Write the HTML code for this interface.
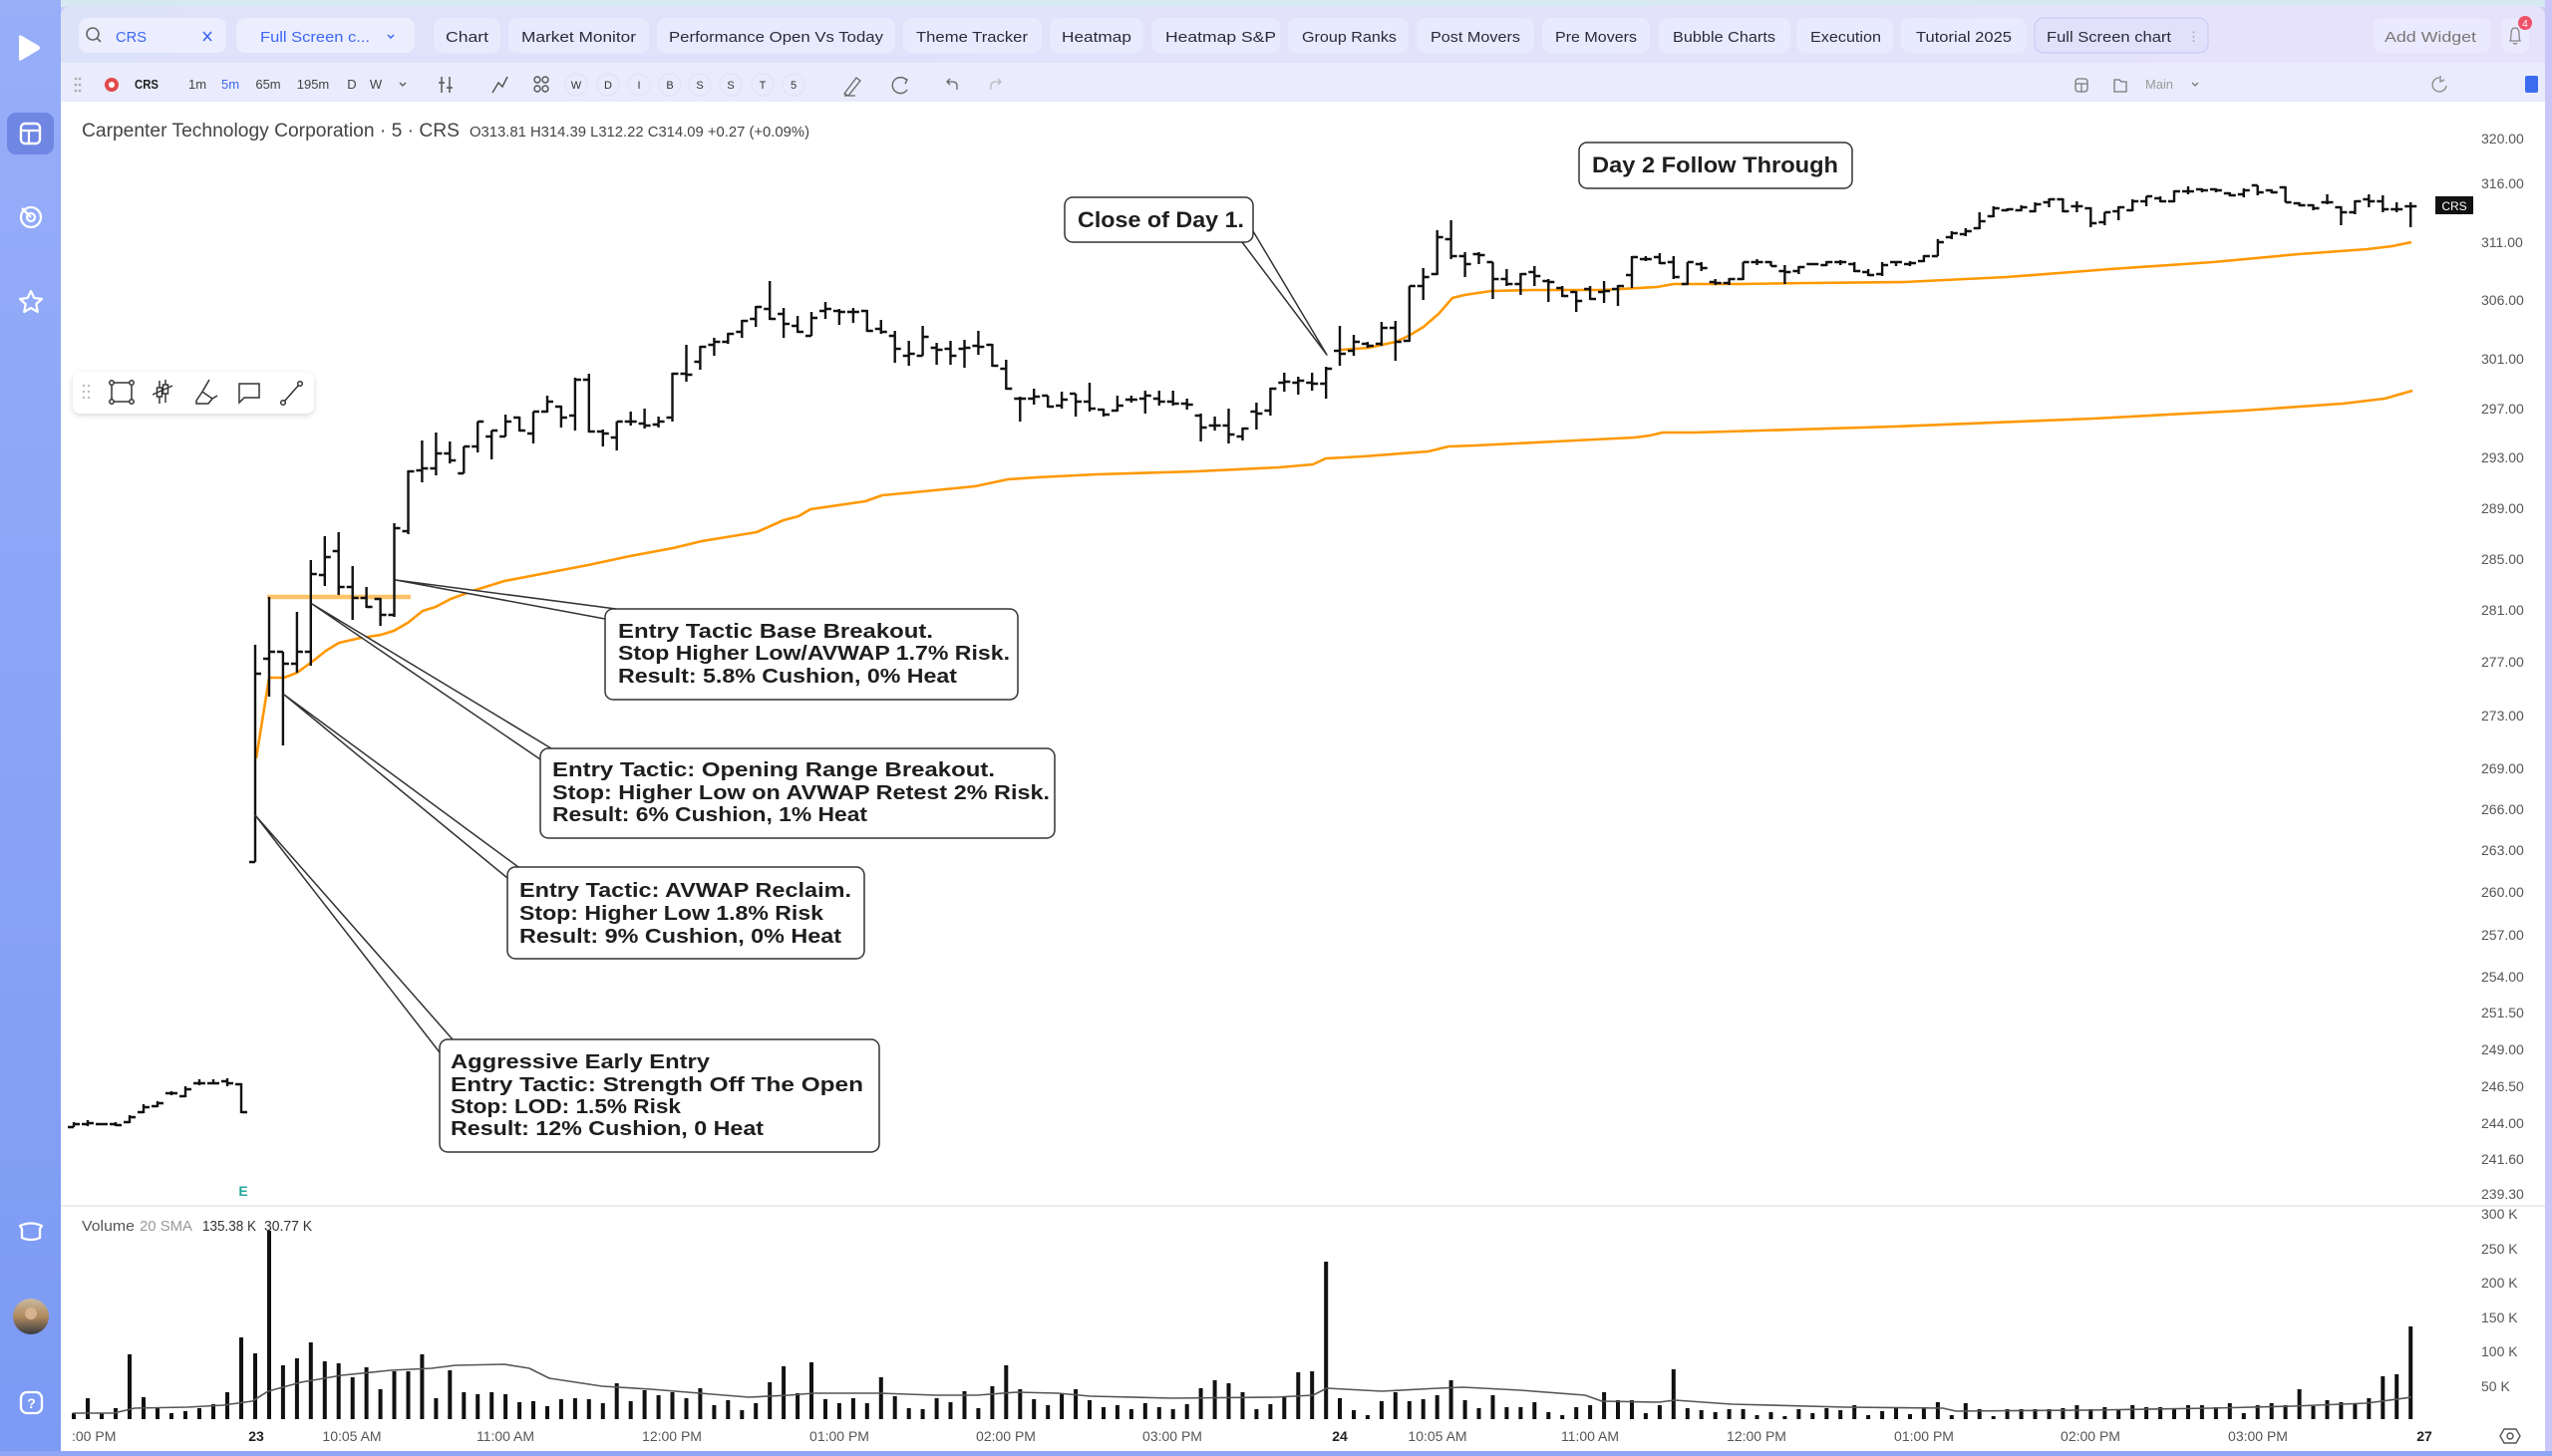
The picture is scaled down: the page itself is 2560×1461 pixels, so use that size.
<!DOCTYPE html>
<html><head><meta charset="utf-8"><style>
html,body{margin:0;padding:0;background:#c7cdf8;}
svg{display:block;}
text{font-family:"Liberation Sans",sans-serif;}
</style></head><body>
<svg xmlns="http://www.w3.org/2000/svg" width="2560" height="1461" viewBox="0 0 2560 1461">
<defs>
<linearGradient id="side" x1="0" y1="0" x2="0" y2="1"><stop offset="0" stop-color="#97aef9"/><stop offset="1" stop-color="#7c9af4"/></linearGradient>
<linearGradient id="hdr" x1="0" y1="0" x2="1" y2="0"><stop offset="0" stop-color="#dde2fb"/><stop offset="1" stop-color="#e7e2fb"/></linearGradient>
<linearGradient id="av" x1="0" y1="0" x2="0" y2="1"><stop offset="0" stop-color="#c9b9a0"/><stop offset="0.5" stop-color="#b08a5e"/><stop offset="1" stop-color="#3a3a42"/></linearGradient>
<filter id="sh" x="-10%" y="-30%" width="120%" height="170%"><feDropShadow dx="0" dy="2" stdDeviation="3" flood-color="#000" flood-opacity="0.15"/></filter>
</defs>

<!-- backgrounds -->
<rect x="0" y="0" width="2560" height="1461" fill="#c9cdf8"/>
<rect x="0" y="0" width="2560" height="7" fill="#d6e8f1"/>
<rect x="2553" y="0" width="7" height="1461" fill="#cbc6f7"/>
<rect x="0" y="0" width="61" height="1461" fill="url(#side)"/>
<rect x="0" y="1456" width="2560" height="5" fill="#8fa5f5"/>
<rect x="61" y="6" width="2492" height="110" rx="10" fill="url(#hdr)"/>
<rect x="61" y="63" width="2492" height="40" fill="#eaecfd"/>
<rect x="61" y="102" width="2492" height="1354" fill="#ffffff"/>

<!-- sidebar icons -->
<path d="M19 37 Q19 34 22 36 L39 46 Q41 48 39 50 L22 60 Q19 62 19 59 Z" fill="#ffffff"/>
<rect x="7" y="113" width="47" height="42" rx="9" fill="#6f86e3"/>
<rect x="21" y="124" width="19" height="20" rx="4" fill="none" stroke="#fff" stroke-width="2.4"/>
<path d="M21 131H40M29 131V144" stroke="#fff" stroke-width="2.2" fill="none"/>
<circle cx="31" cy="218" r="10" fill="none" stroke="#fff" stroke-width="2.3"/>
<circle cx="31" cy="218" r="4" fill="none" stroke="#fff" stroke-width="2.2"/>
<path d="M31 218L22 209" stroke="#fff" stroke-width="2.3"/>
<path d="M31 292 L34.3 299 L42 300 L36.3 305 L37.8 313 L31 309 L24.2 313 L25.7 305 L20 300 L27.7 299 Z" fill="none" stroke="#fff" stroke-width="2.2" stroke-linejoin="round"/>
<path d="M20 1230 Q31 1225 42 1230 L40 1233 L40 1242 Q31 1246 22 1242 L22 1233 Z" fill="none" stroke="#fff" stroke-width="2.3" stroke-linejoin="round"/>
<circle cx="31" cy="1321" r="18" fill="url(#av)"/>
<circle cx="31" cy="1318" r="6" fill="#d8b28f"/>
<rect x="21" y="1397" width="21" height="21" rx="6" fill="none" stroke="#fff" stroke-width="2.3"/>
<text x="31.5" y="1413" font-size="14" font-weight="bold" fill="#fff" text-anchor="middle">?</text>

<!-- header pills -->
<g font-size="15" fill="#2b2b3b">
<rect x="79" y="18" width="148" height="35" rx="9" fill="#eceefe"/>
<circle cx="93" cy="34" r="6" fill="none" stroke="#666" stroke-width="1.6"/>
<path d="M97 38L101 42" stroke="#666" stroke-width="1.6"/>
<text x="116" y="42" fill="#3d66f5" textLength="31" lengthAdjust="spacingAndGlyphs">CRS</text>
<path d="M204 32L212 41M212 32L204 41" stroke="#3d66f5" stroke-width="1.6"/>
<rect x="237" y="18" width="179" height="35" rx="9" fill="#eceefe"/>
<text x="261" y="42" fill="#3d66f5" textLength="110" lengthAdjust="spacingAndGlyphs">Full Screen c...</text>
<path d="M389 35L392 38L395 35" stroke="#3d66f5" stroke-width="1.5" fill="none"/>
<rect x="435" y="18" width="67" height="35" rx="9" fill="#e8eafd"/>
<text x="447" y="42" textLength="43" lengthAdjust="spacingAndGlyphs">Chart</text>
<rect x="510" y="18" width="141" height="35" rx="9" fill="#e8eafd"/>
<text x="523" y="42" textLength="115" lengthAdjust="spacingAndGlyphs">Market Monitor</text>
<rect x="659" y="18" width="239" height="35" rx="9" fill="#e8eafd"/>
<text x="671" y="42" textLength="215" lengthAdjust="spacingAndGlyphs">Performance Open Vs Today</text>
<rect x="906" y="18" width="139" height="35" rx="9" fill="#e8eafd"/>
<text x="919" y="42" textLength="112" lengthAdjust="spacingAndGlyphs">Theme Tracker</text>
<rect x="1053" y="18" width="94" height="35" rx="9" fill="#e8eafd"/>
<text x="1065" y="42" textLength="70" lengthAdjust="spacingAndGlyphs">Heatmap</text>
<rect x="1155" y="18" width="129" height="35" rx="9" fill="#e8eafd"/>
<text x="1169" y="42" textLength="111" lengthAdjust="spacingAndGlyphs">Heatmap S&amp;P</text>
<rect x="1292" y="18" width="121" height="35" rx="9" fill="#e8eafd"/>
<text x="1306" y="42" textLength="95" lengthAdjust="spacingAndGlyphs">Group Ranks</text>
<rect x="1421" y="18" width="118" height="35" rx="9" fill="#e8eafd"/>
<text x="1435" y="42" textLength="90" lengthAdjust="spacingAndGlyphs">Post Movers</text>
<rect x="1547" y="18" width="108" height="35" rx="9" fill="#e8eafd"/>
<text x="1560" y="42" textLength="82" lengthAdjust="spacingAndGlyphs">Pre Movers</text>
<rect x="1664" y="18" width="132" height="35" rx="9" fill="#e8eafd"/>
<text x="1678" y="42" textLength="103" lengthAdjust="spacingAndGlyphs">Bubble Charts</text>
<rect x="1802" y="18" width="97" height="35" rx="9" fill="#e8eafd"/>
<text x="1816" y="42" textLength="71" lengthAdjust="spacingAndGlyphs">Execution</text>
<rect x="1907" y="18" width="126" height="35" rx="9" fill="#e8eafd"/>
<text x="1922" y="42" textLength="96" lengthAdjust="spacingAndGlyphs">Tutorial 2025</text>
<rect x="2041" y="18" width="174" height="35" rx="9" fill="#e2e1fc" stroke="#c8ccf4" stroke-width="1.2"/>
<text x="2053" y="42" textLength="125" lengthAdjust="spacingAndGlyphs">Full Screen chart</text>
<text x="2194" y="41" fill="#999" font-size="13">⋮</text>
<rect x="2380" y="18" width="119" height="35" rx="9" fill="#ebe9fd"/>
<text x="2392" y="42" fill="#777" textLength="92" lengthAdjust="spacingAndGlyphs">Add Widget</text>
<rect x="2509" y="18" width="28" height="35" rx="8" fill="#ebe9fd"/>
<path d="M2518 41 Q2519 39 2519 34 Q2519 28 2523 28 Q2527 28 2527 34 Q2527 39 2528 41 Z M2521 43 Q2523 45 2525 43" fill="none" stroke="#888" stroke-width="1.3"/>
<circle cx="2533" cy="23" r="7" fill="#ee5068"/>
<text x="2533" y="27" font-size="10" fill="#fff" text-anchor="middle">4</text>
</g>

<!-- toolbar row 2 -->
<g font-size="13" fill="#444">
<g fill="#aaa"><circle cx="76" cy="79" r="1.3"/><circle cx="80" cy="79" r="1.3"/><circle cx="76" cy="85" r="1.3"/><circle cx="80" cy="85" r="1.3"/><circle cx="76" cy="91" r="1.3"/><circle cx="80" cy="91" r="1.3"/></g>
<circle cx="112" cy="85" r="7" fill="#e24b4b"/><circle cx="112" cy="85" r="3" fill="#fff"/>
<text x="135" y="89" font-weight="bold" fill="#222" textLength="24" lengthAdjust="spacingAndGlyphs">CRS</text>
<text x="198" y="89" text-anchor="middle">1m</text>
<text x="231" y="89" text-anchor="middle" fill="#3d66f5">5m</text>
<text x="269" y="89" text-anchor="middle">65m</text>
<text x="314" y="89" text-anchor="middle">195m</text>
<text x="353" y="89" text-anchor="middle">D</text>
<text x="377" y="89" text-anchor="middle">W</text>
<path d="M401 83L404 86L407 83" stroke="#555" stroke-width="1.3" fill="none"/>
<path d="M443 77V93M451 77V93M440 83H446M448 88H454" stroke="#555" stroke-width="1.5"/>
<path d="M494 93L500 83L504 87L509 77" stroke="#555" stroke-width="1.5" fill="none"/>
<g fill="none" stroke="#555" stroke-width="1.4"><circle cx="539" cy="80" r="3"/><circle cx="547" cy="80" r="3"/><circle cx="539" cy="89" r="3"/><circle cx="547" cy="89" r="3"/></g>
<g fill="none" stroke="#e0e2f3" stroke-width="1"><circle cx="578" cy="85" r="11"/><circle cx="610" cy="85" r="11"/><circle cx="641" cy="85" r="11"/><circle cx="672" cy="85" r="11"/><circle cx="702" cy="85" r="11"/><circle cx="733" cy="85" r="11"/><circle cx="765" cy="85" r="11"/><circle cx="796" cy="85" r="11"/></g>
<g font-size="11" text-anchor="middle" fill="#333">
<text x="578" y="89">W</text><text x="610" y="89">D</text><text x="641" y="89">I</text><text x="672" y="89">B</text><text x="702" y="89">S</text><text x="733" y="89">S</text><text x="765" y="89">T</text><text x="796" y="89">5</text>
</g>
<path d="M847 94L859 78L863 81L851 96Z M847 96H858" stroke="#666" stroke-width="1.3" fill="none"/>
<path d="M909 80A8 8 0 1 0 910 90M906 78L910 80L908 84" stroke="#666" stroke-width="1.4" fill="none"/>
<path d="M960 90V86Q960 82 955 82H950M953 79L950 82L953 85" stroke="#666" stroke-width="1.3" fill="none"/>
<path d="M994 90V86Q994 82 999 82H1004M1001 79L1004 82L1001 85" stroke="#bbb" stroke-width="1.3" fill="none"/>
<rect x="2082" y="79" width="12" height="13" rx="3" fill="none" stroke="#777" stroke-width="1.3"/>
<path d="M2082 84H2094M2088 84V92" stroke="#777" stroke-width="1.2"/>
<path d="M2121 80H2126L2128 82H2133V92H2121Z" fill="none" stroke="#777" stroke-width="1.3"/>
<text x="2152" y="89" fill="#999" textLength="28" lengthAdjust="spacingAndGlyphs">Main</text>
<path d="M2199 83L2202 86L2205 83" stroke="#777" stroke-width="1.3" fill="none"/>
<path d="M2447 78A7 7 0 1 0 2454 86M2448 76L2448 82L2452 80" stroke="#888" stroke-width="1.3" fill="none"/>
<rect x="2533" y="76" width="13" height="17" rx="2" fill="#3b6cf0"/>
</g>

<!-- legend -->
<text x="82" y="137" font-size="19" fill="#444" textLength="379" lengthAdjust="spacingAndGlyphs">Carpenter Technology Corporation · 5 · CRS</text>
<text x="471" y="137" font-size="15" fill="#444" textLength="341" lengthAdjust="spacingAndGlyphs">O313.81 H314.39 L312.22 C314.09 +0.27 (+0.09%)</text>

<!-- floating toolbar -->
<rect x="73" y="373" width="242" height="42" rx="8" fill="#fff" filter="url(#sh)"/>
<g fill="#bbb"><circle cx="84" cy="387" r="1.2"/><circle cx="89" cy="387" r="1.2"/><circle cx="84" cy="393" r="1.2"/><circle cx="89" cy="393" r="1.2"/><circle cx="84" cy="399" r="1.2"/><circle cx="89" cy="399" r="1.2"/></g>
<g fill="none" stroke="#333" stroke-width="1.5">
<rect x="112" y="384" width="20" height="19"/>
<circle cx="112" cy="384" r="2.2" fill="#fff"/><circle cx="132" cy="384" r="2.2" fill="#fff"/><circle cx="112" cy="403" r="2.2" fill="#fff"/><circle cx="132" cy="403" r="2.2" fill="#fff"/>
<path d="M160 382V405M166 381V404"/><rect x="157.5" y="389" width="5" height="9" fill="#fff"/><rect x="163.5" y="386" width="5" height="9" fill="#fff"/>
<path d="M153 396L173 387"/>
<path d="M197 402L203 393L213 400L209 405H197ZM203 393L210 381M213 400L218 397"/>
<path d="M240 385H260V399H245L240 404Z"/>
<path d="M285 403L300 386"/><circle cx="284" cy="404" r="2.3" fill="#fff"/><circle cx="301" cy="385" r="2.3" fill="#fff"/>
</g>

<!-- orange opening range line -->
<path d="M268 599H412" stroke="#ffb74d" stroke-width="4.5" stroke-opacity="0.85"/>

<!-- VWAP lines -->
<polyline fill="none" stroke="#ff9800" stroke-width="2.6" stroke-linejoin="round" points="257,761 270,680 285,680 298,675 313,664 327,653 340,645 362,640 382,637 395,633 409,625 424,613 437,609 452,601 477,592 506,583 548,575 590,567 632,558 675,550 704,543 759,534 786,522 801,518 813,511 868,503 885,497 927,493 978,488 1011,481 1040,479 1100,476 1200,473 1283,469 1317,466 1330,460 1367,458 1433,453 1453,448 1480,447 1560,443 1640,439 1655,437 1668,434 1700,434 1900,428 2100,420 2250,412 2350,405 2392,400 2420,392"/>
<polyline fill="none" stroke="#ff9800" stroke-width="2.6" stroke-linejoin="round" points="1345,351 1373,349 1400,343 1413,337 1428,328 1443,315 1457,299 1469,296 1496,292 1538,291 1607,291 1662,288 1679,285 1744,285 1813,284 1910,283 2013,278 2117,270 2220,263 2306,255 2375,250 2400,247 2419,243"/>

<!-- previous day bars -->
<path fill="none" stroke="#111" stroke-width="2.4" d="M74 1126V1131M74 1131h-6M74 1128h6M88 1124V1130M88 1128h-6M88 1127h6M102 1127V1129M102 1128h-6M102 1128h6M116 1126V1130M116 1128h-6M116 1129h6M130 1119V1127M130 1126h-6M130 1121h6M144 1108V1117M144 1116h-6M144 1111h6M158 1105V1111M158 1110h-6M158 1107h6M172 1095V1099M172 1097h-6M172 1097h6M186 1090V1101M186 1100h-6M186 1093h6M200 1083V1089M200 1087h-6M200 1087h6M214 1083V1088M214 1087h-6M214 1087h6M228 1082V1090M228 1085h-6M228 1087h6M242 1087V1117M242 1088h-6M242 1116h6"/>

<!-- day 23 bars -->
<path fill="none" stroke="#111" stroke-width="2.4" d="M256 647V865M256 865h-6M256 676h6M270 599V699M270 661h-6M270 654h6M283.9 654V748M283.9 654h-6M283.9 666h6M297.9 614V675M297.9 666h-6M297.9 654h6M311.8 562V668M311.8 654h-6M311.8 576h6M325.8 538V588M325.8 577h-6M325.8 559h6M339.7 534V597M339.7 553h-6M339.7 589h6M353.7 568V622M353.7 589h-6M353.7 600h6M367.6 589V610M367.6 600h-6M367.6 609h6M381.6 600V628M381.6 601h-6M381.6 617h6M395.5 525V619M395.5 617h-6M395.5 530h6M409.5 472V536M409.5 533h-6M409.5 473h6M423.4 442V484M423.4 472h-6M423.4 470h6M437.4 434V477M437.4 470h-6M437.4 455h6M451.3 443V465M451.3 455h-6M451.3 462h6M465.3 448V475M465.3 475h-6M465.3 448h6M479.2 423V454M479.2 448h-6M479.2 423h6M493.2 432V461M493.2 438h-6M493.2 432h6M507.1 416V438M507.1 438h-6M507.1 423h6M521.1 418V433M521.1 419h-6M521.1 432h6M535 413V445M535 435h-6M535 413h6M549 397V414M549 413h-6M549 403h6M562.9 407V429M562.9 408h-6M562.9 419h6M576.9 379V432M576.9 417h-6M576.9 381h6M590.8 375V434M590.8 381h-6M590.8 433h6M604.8 431V448M604.8 433h-6M604.8 435h6M618.7 423V452M618.7 439h-6M618.7 423h6M632.7 413V427M632.7 423h-6M632.7 423h6M646.6 410V430M646.6 425h-6M646.6 427h6M660.6 418V429M660.6 426h-6M660.6 423h6M674.5 374V423M674.5 419h-6M674.5 375h6M688.5 346V383M688.5 375h-6M688.5 376h6M702.4 347V371M702.4 363h-6M702.4 348h6M716.4 339V357M716.4 346h-6M716.4 343h6M730.3 334V345M730.3 343h-6M730.3 335h6M744.3 321V339M744.3 333h-6M744.3 322h6M758.2 307V328M758.2 320h-6M758.2 308h6M772.2 282V321M772.2 310h-6M772.2 320h6M786.1 309V339M786.1 315h-6M786.1 325h6M800.1 317V334M800.1 327h-6M800.1 333h6M814 313V337M814 337h-6M814 319h6M828 303V320M828 312h-6M828 310h6M841.9 310V326M841.9 312h-6M841.9 313h6M855.9 309V324M855.9 313h-6M855.9 313h6M869.8 311V333M869.8 312h-6M869.8 332h6M883.8 321V335M883.8 330h-6M883.8 333h6M897.7 332V364M897.7 337h-6M897.7 350h6M911.7 342V367M911.7 357h-6M911.7 355h6M925.6 327V357M925.6 357h-6M925.6 338h6M939.6 344V366M939.6 349h-6M939.6 351h6M953.5 342V366M953.5 350h-6M953.5 357h6M967.5 341V369M967.5 350h-6M967.5 349h6M981.4 332V356M981.4 347h-6M981.4 348h6M995.4 345V368M995.4 346h-6M995.4 367h6M1009.3 361V391M1009.3 370h-6M1009.3 390h6M1023.3 398V423M1023.3 400h-6M1023.3 400h6M1037.2 390V406M1037.2 400h-6M1037.2 398h6M1051.2 397V409M1051.2 397h-6M1051.2 408h6M1065.1 393V410M1065.1 407h-6M1065.1 401h6M1079.1 395V418M1079.1 395h-6M1079.1 403h6M1093 384V413M1093 403h-6M1093 410h6M1107 410V418M1107 411h-6M1107 416h6M1120.9 397V413M1120.9 412h-6M1120.9 407h6M1134.9 397V404M1134.9 401h-6M1134.9 401h6M1148.8 392V415M1148.8 400h-6M1148.8 397h6M1162.8 392V407M1162.8 400h-6M1162.8 403h6M1176.7 392V407M1176.7 403h-6M1176.7 405h6M1190.7 400V411M1190.7 405h-6M1190.7 406h6M1204.6 415V443M1204.6 417h-6M1204.6 429h6M1218.6 418V432M1218.6 427h-6M1218.6 427h6M1232.5 410V445M1232.5 427h-6M1232.5 436h6M1246.5 429V442M1246.5 438h-6M1246.5 430h6M1260.4 404V431M1260.4 413h-6M1260.4 415h6M1274.4 389V417M1274.4 412h-6M1274.4 390h6M1288.3 374V393M1288.3 384h-6M1288.3 383h6M1302.3 378V396M1302.3 384h-6M1302.3 382h6M1316.2 374V392M1316.2 384h-6M1316.2 385h6M1330.2 368V400M1330.2 385h-6M1330.2 370h6"/>

<!-- day 24 bars -->
<path fill="none" stroke="#111" stroke-width="2.4" d="M1344 327V367M1344 352h-6M1344 355h6M1358 336V357M1358 352h-6M1358 343h6M1371.9 343V349M1371.9 345h-6M1371.9 347h6M1385.9 323V347M1385.9 345h-6M1385.9 329h6M1399.8 322V362M1399.8 329h-6M1399.8 343h6M1413.8 287V343M1413.8 342h-6M1413.8 287h6M1427.7 269V301M1427.7 287h-6M1427.7 278h6M1441.7 231V276M1441.7 275h-6M1441.7 238h6M1455.6 221V260M1455.6 240h-6M1455.6 257h6M1469.6 253V278M1469.6 257h-6M1469.6 265h6M1483.5 253V265M1483.5 255h-6M1483.5 256h6M1497.5 263V300M1497.5 263h-6M1497.5 280h6M1511.4 270V287M1511.4 280h-6M1511.4 285h6M1525.4 274V296M1525.4 285h-6M1525.4 275h6M1539.3 267V287M1539.3 273h-6M1539.3 277h6M1553.3 280V303M1553.3 282h-6M1553.3 283h6M1567.2 287V298M1567.2 289h-6M1567.2 297h6M1581.2 292V313M1581.2 293h-6M1581.2 302h6M1595.1 287V301M1595.1 290h-6M1595.1 300h6M1609.1 282V304M1609.1 293h-6M1609.1 292h6M1623 286V307M1623 290h-6M1623 287h6M1637 257V289M1637 276h-6M1637 258h6M1650.9 257V262M1650.9 260h-6M1650.9 260h6M1664.9 254V265M1664.9 258h-6M1664.9 264h6M1678.8 257V280M1678.8 263h-6M1678.8 278h6M1692.8 263V286M1692.8 285h-6M1692.8 263h6M1706.7 263V272M1706.7 265h-6M1706.7 269h6M1720.7 280V286M1720.7 283h-6M1720.7 284h6M1734.6 279V286M1734.6 284h-6M1734.6 280h6M1748.6 263V281M1748.6 280h-6M1748.6 263h6M1762.5 260V266M1762.5 263h-6M1762.5 263h6M1776.5 262V267M1776.5 263h-6M1776.5 267h6M1790.4 266V285M1790.4 272h-6M1790.4 273h6M1804.4 267V275M1804.4 272h-6M1804.4 268h6M1818.3 264V266M1818.3 265h-6M1818.3 265h6M1832.3 262V267M1832.3 266h-6M1832.3 263h6M1846.2 261V266M1846.2 263h-6M1846.2 263h6M1860.2 263V273M1860.2 265h-6M1860.2 272h6M1874.1 270V277M1874.1 273h-6M1874.1 276h6M1888.1 263V277M1888.1 275h-6M1888.1 266h6M1902 262V267M1902 263h-6M1902 263h6M1916 262V267M1916 265h-6M1916 264h6M1929.9 256V263M1929.9 262h-6M1929.9 257h6M1943.9 240V257M1943.9 257h-6M1943.9 243h6M1957.8 232V240M1957.8 238h-6M1957.8 234h6M1971.8 229V237M1971.8 235h-6M1971.8 232h6M1985.7 213V230M1985.7 229h-6M1985.7 222h6M1999.7 207V218M1999.7 217h-6M1999.7 209h6M2013.6 209V212M2013.6 211h-6M2013.6 210h6M2027.6 206V212M2027.6 211h-6M2027.6 208h6M2041.5 203V213M2041.5 212h-6M2041.5 205h6M2055.5 199V208M2055.5 203h-6M2055.5 200h6M2069.4 199V213M2069.4 200h-6M2069.4 212h6M2083.4 202V213M2083.4 207h-6M2083.4 207h6M2097.3 208V228M2097.3 209h-6M2097.3 224h6M2111.3 213V226M2111.3 223h-6M2111.3 213h6M2125.2 207V221M2125.2 212h-6M2125.2 208h6M2139.2 200V212M2139.2 211h-6M2139.2 202h6M2153.1 197V207M2153.1 202h-6M2153.1 197h6M2167.1 197V203M2167.1 199h-6M2167.1 202h6M2181 191V203M2181 202h-6M2181 192h6M2195 187V195M2195 192h-6M2195 192h6M2208.9 189V193M2208.9 190h-6M2208.9 191h6M2222.9 189V193M2222.9 190h-6M2222.9 191h6M2236.8 193V197M2236.8 194h-6M2236.8 196h6M2250.8 189V198M2250.8 195h-6M2250.8 191h6M2264.7 186V196M2264.7 186h-6M2264.7 193h6M2278.7 190V194M2278.7 191h-6M2278.7 193h6M2292.6 187V203M2292.6 188h-6M2292.6 203h6M2306.6 203V207M2306.6 204h-6M2306.6 206h6M2320.5 205V211M2320.5 206h-6M2320.5 209h6M2334.5 195V205M2334.5 203h-6M2334.5 203h6M2348.4 207V226M2348.4 208h-6M2348.4 213h6M2362.4 201V215M2362.4 213h-6M2362.4 202h6M2376.3 195V208M2376.3 200h-6M2376.3 202h6M2390.3 196V213M2390.3 202h-6M2390.3 210h6M2404.2 203V213M2404.2 210h-6M2404.2 210h6M2418.2 203V228M2418.2 207h-6M2418.2 207h6"/>

<!-- CRS tag -->
<rect x="2443" y="197" width="38" height="18" fill="#111"/>
<text x="2462" y="211" font-size="12" fill="#fff" text-anchor="middle">CRS</text>

<!-- callouts -->
<g stroke="#333" stroke-width="1.5" fill="#fff" stroke-linejoin="round">
<polygon points="256,818 454,1043 441,1056"/>
<rect x="441" y="1043" width="441" height="113" rx="8"/>
<polygon points="285,697 520,870 509,881"/>
<rect x="509" y="870" width="358" height="92" rx="8"/>
<polygon points="313,606 553,751 542,762"/>
<rect x="542" y="751" width="516" height="90" rx="8"/>
<polygon points="397,582 618,611 607,621"/>
<rect x="607" y="611" width="414" height="91" rx="8"/>
<polygon points="1331,356 1246,243 1257,232"/>
<rect x="1068" y="198" width="189" height="45" rx="8"/>
<rect x="1584" y="143" width="274" height="46" rx="8"/>
</g>
<g font-size="20" font-weight="bold" fill="#1e1e1e">
<text x="452" y="1072" textLength="260" lengthAdjust="spacingAndGlyphs">Aggressive Early Entry</text>
<text x="452" y="1095" textLength="414" lengthAdjust="spacingAndGlyphs">Entry Tactic: Strength Off The Open</text>
<text x="452" y="1117" textLength="231" lengthAdjust="spacingAndGlyphs">Stop: LOD: 1.5% Risk</text>
<text x="452" y="1139" textLength="314" lengthAdjust="spacingAndGlyphs">Result: 12% Cushion, 0 Heat</text>
<text x="521" y="900" textLength="333" lengthAdjust="spacingAndGlyphs">Entry Tactic: AVWAP Reclaim.</text>
<text x="521" y="923" textLength="305" lengthAdjust="spacingAndGlyphs">Stop: Higher Low 1.8% Risk</text>
<text x="521" y="946" textLength="323" lengthAdjust="spacingAndGlyphs">Result: 9% Cushion, 0% Heat</text>
<text x="554" y="779" textLength="444" lengthAdjust="spacingAndGlyphs">Entry Tactic: Opening Range Breakout.</text>
<text x="554" y="802" textLength="499" lengthAdjust="spacingAndGlyphs">Stop: Higher Low on AVWAP Retest 2% Risk.</text>
<text x="554" y="824" textLength="316" lengthAdjust="spacingAndGlyphs">Result: 6% Cushion, 1% Heat</text>
<text x="620" y="640" textLength="316" lengthAdjust="spacingAndGlyphs">Entry Tactic Base Breakout.</text>
<text x="620" y="662" textLength="393" lengthAdjust="spacingAndGlyphs">Stop Higher Low/AVWAP 1.7% Risk.</text>
<text x="620" y="685" textLength="340" lengthAdjust="spacingAndGlyphs">Result: 5.8% Cushion, 0% Heat</text>
<text x="1081" y="228" font-size="22" textLength="167" lengthAdjust="spacingAndGlyphs">Close of Day 1.</text>
<text x="1597" y="173" font-size="22" textLength="247" lengthAdjust="spacingAndGlyphs">Day 2 Follow Through</text>
</g>

<!-- price axis -->
<g font-size="14" fill="#555">
<text x="2489" y="144">320.00</text><text x="2489" y="189">316.00</text><text x="2489" y="248">311.00</text><text x="2489" y="306">306.00</text><text x="2489" y="365">301.00</text><text x="2489" y="415">297.00</text><text x="2489" y="464">293.00</text><text x="2489" y="515">289.00</text><text x="2489" y="566">285.00</text><text x="2489" y="617">281.00</text><text x="2489" y="669">277.00</text><text x="2489" y="723">273.00</text><text x="2489" y="776">269.00</text><text x="2489" y="817">266.00</text><text x="2489" y="858">263.00</text><text x="2489" y="900">260.00</text><text x="2489" y="943">257.00</text><text x="2489" y="985">254.00</text><text x="2489" y="1021">251.50</text><text x="2489" y="1058">249.00</text><text x="2489" y="1095">246.50</text><text x="2489" y="1132">244.00</text><text x="2489" y="1168">241.60</text><text x="2489" y="1203">239.30</text>
<text x="2489" y="1223">300 K</text><text x="2489" y="1258">250 K</text><text x="2489" y="1292">200 K</text><text x="2489" y="1327">150 K</text><text x="2489" y="1361">100 K</text><text x="2489" y="1396">50 K</text>
</g>

<!-- pane separator -->
<path d="M61 1210H2553" stroke="#ececec" stroke-width="2"/>
<text x="244" y="1200" font-size="14" font-weight="bold" fill="#26a69a" text-anchor="middle">E</text>

<!-- volume legend -->
<text x="82" y="1235" font-size="15" fill="#555" textLength="53" lengthAdjust="spacingAndGlyphs">Volume</text>
<text x="140" y="1235" font-size="15" fill="#999" textLength="53" lengthAdjust="spacingAndGlyphs">20 SMA</text>
<text x="203" y="1235" font-size="15" fill="#333" textLength="54" lengthAdjust="spacingAndGlyphs">135.38 K</text>
<text x="265" y="1235" font-size="15" fill="#333" textLength="48" lengthAdjust="spacingAndGlyphs">30.77 K</text>

<!-- volume bars -->
<path fill="none" stroke="#111" stroke-width="4" d="M74 1424V1418M88 1424V1403M102 1424V1418M116 1424V1413M130 1424V1359M144 1424V1402M158 1424V1413M172 1424V1418M186 1424V1416M200 1424V1413M214 1424V1409M228 1424V1397M242 1424V1342"/>
<path fill="none" stroke="#111" stroke-width="4" d="M256 1424V1358M270 1424V1235M283.9 1424V1370M297.9 1424V1363M311.8 1424V1347M325.8 1424V1366M339.7 1424V1368M353.7 1424V1382M367.6 1424V1372M381.6 1424V1394M395.5 1424V1376M409.5 1424V1376M423.4 1424V1359M437.4 1424V1403M451.3 1424V1375M465.3 1424V1397M479.2 1424V1399M493.2 1424V1397M507.1 1424V1399M521.1 1424V1407M535 1424V1406M549 1424V1411M562.9 1424V1404M576.9 1424V1403M590.8 1424V1404M604.8 1424V1408M618.7 1424V1388M632.7 1424V1406M646.6 1424V1395M660.6 1424V1400M674.5 1424V1397M688.5 1424V1403M702.4 1424V1393M716.4 1424V1410M730.3 1424V1405M744.3 1424V1415M758.2 1424V1408M772.2 1424V1387M786.1 1424V1371M800.1 1424V1398M814 1424V1367M828 1424V1404M841.9 1424V1408M855.9 1424V1403M869.8 1424V1408M883.8 1424V1382M897.7 1424V1401M911.7 1424V1413M925.6 1424V1414M939.6 1424V1403M953.5 1424V1407M967.5 1424V1396M981.4 1424V1413M995.4 1424V1391M1009.3 1424V1370M1023.3 1424V1394M1037.2 1424V1404M1051.2 1424V1410M1065.1 1424V1399M1079.1 1424V1394M1093 1424V1405M1107 1424V1412M1120.9 1424V1410M1134.9 1424V1414M1148.8 1424V1408M1162.8 1424V1412M1176.7 1424V1414M1190.7 1424V1409M1204.6 1424V1393M1218.6 1424V1385M1232.5 1424V1388M1246.5 1424V1397M1260.4 1424V1414M1274.4 1424V1409M1288.3 1424V1402M1302.3 1424V1377M1316.2 1424V1376M1330.2 1424V1266"/>
<path fill="none" stroke="#111" stroke-width="4" d="M1344 1424V1403M1358 1424V1415M1371.9 1424V1420M1385.9 1424V1406M1399.8 1424V1397M1413.8 1424V1406M1427.7 1424V1404M1441.7 1424V1400M1455.6 1424V1385M1469.6 1424V1405M1483.5 1424V1413M1497.5 1424V1400M1511.4 1424V1412M1525.4 1424V1412M1539.3 1424V1407M1553.3 1424V1417M1567.2 1424V1420M1581.2 1424V1412M1595.1 1424V1410M1609.1 1424V1397M1623 1424V1405M1637 1424V1405M1650.9 1424V1418M1664.9 1424V1410M1678.8 1424V1374M1692.8 1424V1413M1706.7 1424V1415M1720.7 1424V1417M1734.6 1424V1414M1748.6 1424V1414M1762.5 1424V1420M1776.5 1424V1417M1790.4 1424V1421M1804.4 1424V1414M1818.3 1424V1418M1832.3 1424V1413M1846.2 1424V1415M1860.2 1424V1410M1874.1 1424V1420M1888.1 1424V1416M1902 1424V1412M1916 1424V1419M1929.9 1424V1412M1943.9 1424V1407M1957.8 1424V1420M1971.8 1424V1408M1985.7 1424V1414M1999.7 1424V1421M2013.6 1424V1414M2027.6 1424V1414M2041.5 1424V1414M2055.5 1424V1414M2069.4 1424V1413M2083.4 1424V1410M2097.3 1424V1414M2111.3 1424V1412M2125.2 1424V1414M2139.2 1424V1410M2153.1 1424V1412M2167.1 1424V1412M2181 1424V1414M2195 1424V1410M2208.9 1424V1410M2222.9 1424V1412M2236.8 1424V1408M2250.8 1424V1418M2264.7 1424V1410M2278.7 1424V1408M2292.6 1424V1410M2306.6 1424V1394M2320.5 1424V1411M2334.5 1424V1405M2348.4 1424V1407M2362.4 1424V1409M2376.3 1424V1403M2390.3 1424V1381M2404.2 1424V1379M2418.2 1424V1331"/>
<polyline fill="none" stroke="#555" stroke-width="1.6" stroke-linejoin="round" points="73,1418 114,1418 135,1413 188,1412 224,1410 253,1406 269,1396 302,1387 343,1380 392,1375 433,1373 457,1370 506,1369 531,1373 551,1383 604,1391 653,1394 702,1398 751,1402 792,1400 816,1398 882,1398 939,1400 980,1400 1020,1397 1061,1398 1094,1401 1176,1403 1280,1402 1317,1400 1331,1393 1386,1396 1443,1393 1468,1392 1525,1395 1590,1400 1607,1406 1664,1407 1680,1405 1737,1409 1851,1412 1949,1413 1962,1416 2096,1415 2219,1413 2300,1411 2374,1408 2419,1402"/>

<!-- time axis -->
<g font-size="14" fill="#555" text-anchor="middle">
<text x="72" y="1446" text-anchor="start">:00 PM</text>
<text x="257" y="1446" font-weight="bold" fill="#222">23</text>
<text x="353" y="1446">10:05 AM</text>
<text x="507" y="1446">11:00 AM</text>
<text x="674" y="1446">12:00 PM</text>
<text x="842" y="1446">01:00 PM</text>
<text x="1009" y="1446">02:00 PM</text>
<text x="1176" y="1446">03:00 PM</text>
<text x="1344" y="1446" font-weight="bold" fill="#222">24</text>
<text x="1442" y="1446">10:05 AM</text>
<text x="1595" y="1446">11:00 AM</text>
<text x="1762" y="1446">12:00 PM</text>
<text x="1930" y="1446">01:00 PM</text>
<text x="2097" y="1446">02:00 PM</text>
<text x="2265" y="1446">03:00 PM</text>
<text x="2432" y="1446" font-weight="bold" fill="#222">27</text>
</g>
<path d="M2512 1434H2524L2528 1441L2524 1448H2512L2508 1441Z" fill="none" stroke="#555" stroke-width="1.4"/>
<circle cx="2518" cy="1441" r="3" fill="none" stroke="#555" stroke-width="1.4"/>
</svg>
</body></html>
